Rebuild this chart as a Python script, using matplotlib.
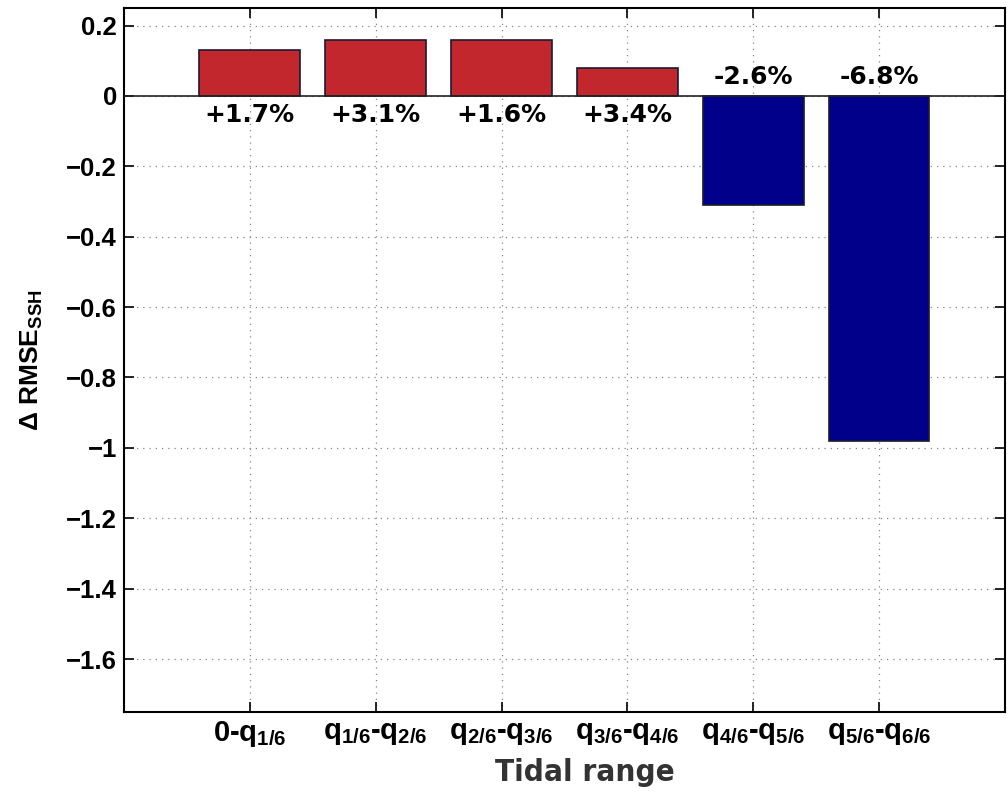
import matplotlib
matplotlib.use("Agg")
import matplotlib.pyplot as plt

plt.rcParams['mathtext.fontset'] = 'custom'
plt.rcParams['mathtext.rm'] = 'Liberation Sans:bold'
plt.rcParams['mathtext.it'] = 'Liberation Sans:bold'
plt.rcParams['mathtext.bf'] = 'Liberation Sans:bold'

# data
labels = ['0-q$_{1/6}$', 'q$_{1/6}$-q$_{2/6}$', 'q$_{2/6}$-q$_{3/6}$',
          'q$_{3/6}$-q$_{4/6}$', 'q$_{4/6}$-q$_{5/6}$', 'q$_{5/6}$-q$_{6/6}$']
delta = [0.13, 0.16, 0.16, 0.08, -0.31, -0.98]
pct = ['+1.7%', '+3.1%', '+1.6%', '+3.4%', '-2.6%', '-6.8%']
yticks = [0.2, 0, -0.2, -0.4, -0.6, -0.8, -1, -1.2, -1.4, -1.6]

red = '#C1272D'
blue = '#00008B'

fig = plt.figure(figsize=(10.08, 7.98), dpi=100)
ax = fig.add_axes([0.123, 0.108, 0.874, 0.882])

x = list(range(1, len(delta) + 1))
colors = [red if d > 0 else blue for d in delta]
ax.bar(x, delta, width=0.8, color=colors, edgecolor='#1a1a33', linewidth=1.2, zorder=3)
ax.axhline(0, color='#222222', linewidth=1.2, zorder=4)

for xi, d, p in zip(x, delta, pct):
    yy = -0.055 if d > 0 else 0.055
    ax.text(xi, yy, p, ha='center', va='center', fontsize=18,
            fontweight='bold', family='DejaVu Sans', zorder=5)

ax.set_xlim(0, 7)
ax.set_ylim(-1.75, 0.25)
ax.set_xticks(x)
ax.set_xticklabels(labels, fontsize=21, fontweight='bold', family='Liberation Sans')
ax.set_yticks(yticks)
ax.set_yticklabels(['0.2', '0', '\u22120.2', '\u22120.4', '\u22120.6', '\u22120.8',
                    '\u22121', '\u22121.2', '\u22121.4', '\u22121.6'],
                   fontsize=18.5, fontweight='bold', family='Liberation Sans')
ax.tick_params(direction='in', length=7, width=1.2, top=True, right=True, pad=5)
ax.grid(True, linestyle=(0, (1, 4)), color='#888888', linewidth=0.9, zorder=0)
for s in ax.spines.values():
    s.set_linewidth(1.5)

ax.set_ylabel(r'$\Delta$ RMSE$_{\mathrm{SSH}}$', fontsize=19, fontweight='bold',
              family='Liberation Sans')
ax.yaxis.set_label_coords(-0.09, 0.5)
ax.set_xlabel('Tidal range', fontsize=22.5, fontweight='bold', color='#333333',
              family='DejaVu Sans', fontstretch='condensed')
ax.xaxis.set_label_coords(0.523, -0.066)

fig.savefig('out.png', dpi=100)
